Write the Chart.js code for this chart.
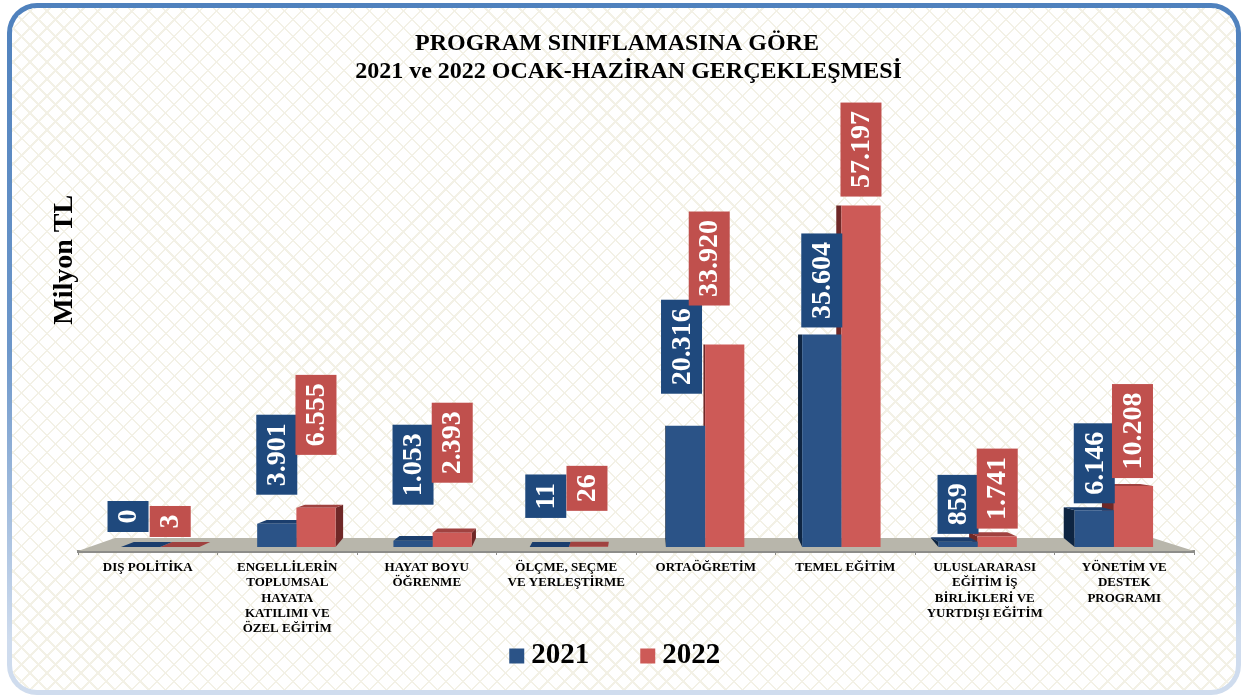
<!DOCTYPE html>
<html lang="tr"><head><meta charset="utf-8">
<script src="https://cdn.jsdelivr.net/npm/chart.js@4/dist/chart.umd.js"></script>
<style>
html,body{margin:0;padding:0;background:#fff;overflow:hidden}
#card{position:absolute;left:7px;top:3px;width:1234px;height:692px;box-sizing:border-box;border:5px solid transparent;border-radius:30px;
background:
 repeating-linear-gradient(45deg,#f3f1e6 0 1.6px,transparent 1.6px 12px) padding-box,
 repeating-linear-gradient(-45deg,#f3f1e6 0 1.6px,transparent 1.6px 12px) padding-box,
 linear-gradient(#fff,#fff) padding-box,
 linear-gradient(180deg,#4f81bd 0%,#6d97ca 50%,#cfdcee 92%) border-box;}
#wrap{position:absolute;left:0;top:0;width:1241px;height:695px}
</style></head><body>
<div id="card"></div>
<div id="wrap"><canvas id="c" width="1241" height="695"></canvas></div>
<script>
const categories=[
 ["DIŞ POLİTİKA"],
 ["ENGELLİLERİN","TOPLUMSAL","HAYATA","KATILIMI VE","ÖZEL EĞİTİM"],
 ["HAYAT BOYU","ÖĞRENME"],
 ["ÖLÇME, SEÇME","VE YERLEŞTİRME"],
 ["ORTAÖĞRETİM"],
 ["TEMEL EĞİTİM"],
 ["ULUSLARARASI","EĞİTİM İŞ","BİRLİKLERİ VE","YURTDIŞI EĞİTİM"],
 ["YÖNETİM VE","DESTEK","PROGRAMI"]
];
const values2021=[0,3901,1053,11,20316,35604,859,6146];
const values2022=[3,6555,2393,26,33920,57197,1741,10208];
const titleLine1="PROGRAM SINIFLAMASINA GÖRE";
const titleLine2="2021 ve 2022 OCAK-HAZİRAN GERÇEKLEŞMESİ";
const yTitle="Milyon TL";

const SERIF='"Liberation Serif","Times New Roman",serif';
const palette=[
 {front:'#2b5387',side:'#0e2542',top:'#1b3e6d',box:'#1f497d'},
 {front:'#cd5a57',side:'#6f2827',top:'#a04240',box:'#c0504d'}
];
// label placement relative to its bar: [shift of box centre, gap between box bottom and bar top]
const labelOffsets=[
 [[-12.5,15],[0,29],[0,36],[-3.5,29],[-4,32],[0,7],[0,8],[0,7]],
 [[-9.5,10],[0,53],[0,50],[-1.5,36],[-15.5,39],[0,9],[0,8],[-1,8]]
];

const fmt=v=>String(v).replace(/\B(?=(\d{3})+$)/g,'.');

const placement={
 id:'placement',
 afterLayout(chart){
  const ax=chart.scales.xLabels;
  ax.left=78;ax.right=1194;ax.width=1116;ax.top=chart.chartArea.bottom+4;ax.configure();
  chart.boxes.forEach(b=>{
   const t=b.options&&b.options.text;
   if(t===titleLine1){b.left+=3.5;b.right+=3.5;}
   if(t===titleLine2){b.left+=15;b.right+=15;}
  });
  const lg=chart.legend;
  lg.left+=5;lg.right+=5;lg.top=583;
 }
};

const solid={
 id:'solid',
 beforeDatasetsDraw(chart){
  const {ctx,chartArea:ca}=chart;
  const ax=chart.scales.xLabels;
  const cx=(ca.left+ca.right)/2, base=ca.bottom;
  // floor
  ctx.save();
  ctx.fillStyle='#b8b6ab';
  ctx.beginPath();
  ctx.moveTo(ax.left,base+4);ctx.lineTo(ax.left+37,base-9);
  ctx.lineTo(ax.right-41,base-9);ctx.lineTo(ax.right,base+4);
  ctx.closePath();ctx.fill();
  // depth faces: later series first so the earlier one overlaps it
  [1,0].forEach(di=>{
   const p=palette[di];
   chart.getDatasetMeta(di).data.forEach(bar=>{
    const {x,y,base:b,width:w}=bar.getProps(['x','y','base','width'],true);
    const l=x-w/2,r=x+w/2;
    const bx=v=>v+(cx-v)*0.025;
    const lift=Math.max(0,5-(b-y)*0.05);
    const by=y-lift, bb=b-9;
    if(b-y>1){
     ctx.fillStyle=p.side;
     const e=l>cx?l:(r<cx?r:null);
     if(e!==null){
      ctx.beginPath();ctx.moveTo(e,y);ctx.lineTo(bx(e),by);ctx.lineTo(bx(e),bb);ctx.lineTo(e,b);ctx.closePath();ctx.fill();
     }
    }
    if(lift>0){
     ctx.fillStyle=p.top;
     ctx.beginPath();ctx.moveTo(l,y);ctx.lineTo(bx(l),by);ctx.lineTo(bx(r),by);ctx.lineTo(r,y);ctx.closePath();ctx.fill();
    }
   });
  });
  ctx.restore();
 },
 afterDatasetsDraw(chart){
  const {ctx}=chart;
  ctx.save();
  ctx.font='bold 28px '+SERIF;
  ctx.textAlign='center';ctx.textBaseline='middle';
  [0,1].forEach(di=>{
   const vals=chart.data.datasets[di].data;
   chart.getDatasetMeta(di).data.forEach((bar,i)=>{
    const {x,y}=bar.getProps(['x','y'],true);
    const txt=fmt(vals[i]);
    const [dx,gap]=labelOffsets[di][i];
    const h=ctx.measureText(txt).width+17, w=41;
    const cxb=x+dx, bot=y-gap;
    ctx.fillStyle=palette[di].box;
    ctx.fillRect(cxb-w/2,bot-h,w,h);
    ctx.save();
    ctx.translate(cxb+1,bot-h/2);ctx.rotate(-Math.PI/2);
    ctx.fillStyle='#fff';ctx.fillText(txt,0,0);
    ctx.restore();
   });
  });
  ctx.restore();
 }
};

new Chart(document.getElementById('c'),{
 type:'bar',
 data:{
  labels:categories,
  datasets:[
   {label:'2021',data:values2021,xAxisID:'xBars',yAxisID:'y',backgroundColor:palette[0].front,borderWidth:0},
   {label:'2022',data:values2022,xAxisID:'xBars',yAxisID:'y',backgroundColor:palette[1].front,borderWidth:0}
  ]
 },
 plugins:[placement,solid],
 options:{
  responsive:false,animation:false,
  layout:{padding:{left:45,right:59,top:0,bottom:0}},
  scales:{
   xBars:{type:'category',axis:'x',position:'bottom',display:false,offset:true,grid:{display:false}},
   xLabels:{type:'category',axis:'x',position:'bottom',labels:categories,offset:true,
     afterFit(s){s.height=108;},
     border:{display:true,color:'#8d8d8a',width:3},
     grid:{display:true,drawOnChartArea:false,drawTicks:true,tickLength:4,tickColor:'#8d8d8a',offset:true},
     ticks:{autoSkip:false,maxRotation:0,minRotation:0,padding:4.5,color:'#000',font:{family:SERIF,weight:'bold',size:13,lineHeight:1.19}}},
   y:{type:'linear',min:0,max:59000,position:'left',
     afterFit(s){s.width=47;},
     grid:{display:false},border:{display:false},ticks:{display:false},
     title:{display:true,text:yTitle,align:'end',color:'#000',padding:{top:3,bottom:0},font:{family:SERIF,weight:'bold',size:28}}}
  },
  datasets:{bar:{categoryPercentage:0.5755,barPercentage:1}},
  plugins:{
   tooltip:{enabled:false},
   title:{display:true,text:titleLine1,color:'#000',padding:{top:31,bottom:1},font:{family:SERIF,weight:'bold',size:24,lineHeight:1.1}},
   subtitle:{display:true,text:titleLine2,color:'#000',padding:{top:0,bottom:110},font:{family:SERIF,weight:'bold',size:24,lineHeight:1.1}},
   legend:{position:'bottom',maxHeight:40,labels:{usePointStyle:true,pointStyle:'rect',boxWidth:0.01,boxHeight:15,padding:58.5,color:'#000',font:{family:SERIF,weight:'bold',size:29}}}
  }
 }
});
</script></body></html>
